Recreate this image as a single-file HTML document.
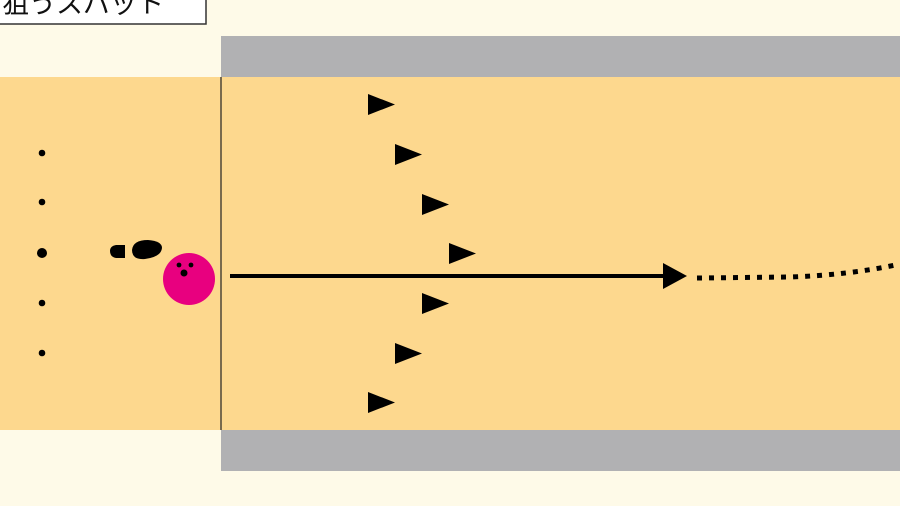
<!DOCTYPE html>
<html><head><meta charset="utf-8"><style>html,body{margin:0;padding:0;background:#fefae8}svg{display:block}</style></head>
<body>
<svg width="900" height="506" viewBox="0 0 900 506" xmlns="http://www.w3.org/2000/svg">
<rect x="0" y="0" width="900" height="506" fill="#fefae8"/>
<rect x="221" y="36" width="679" height="41" fill="#b1b1b3"/>
<rect x="221" y="430" width="679" height="41" fill="#b1b1b3"/>
<rect x="0" y="77" width="900" height="353" fill="#fdd88e"/>
<line x1="221" y1="77" x2="221" y2="430" stroke="#222" stroke-width="1.2"/>
<rect x="-2" y="-10" width="208" height="34" fill="#fff" stroke="#333" stroke-width="1.5"/>
<text x="2" y="13" font-family="'Liberation Sans','Noto Sans CJK JP',sans-serif" font-size="27" fill="#111">狙うスパット</text>
<g fill="#000">
<circle cx="42" cy="153" r="3.3"/>
<circle cx="42" cy="202" r="3.3"/>
<circle cx="42" cy="253" r="5"/>
<circle cx="42" cy="303" r="3.3"/>
<circle cx="42" cy="353" r="3.3"/>
<path d="M125 245 L125 258 L116 258 Q110 257 110 251 Q110 246 116 245 Z"/>
<path d="M132 250 Q133 240 148 240 Q162 241 162 248 Q161 257 145 259 Q132 260 132 250 Z"/>
<polygon points="368,94 395,104.5 368,115"/>
<polygon points="395,144 422,154.5 395,165"/>
<polygon points="422,194 449,204.5 422,215"/>
<polygon points="449,243 476,253.5 449,264"/>
<polygon points="422,293 449,303.5 422,314"/>
<polygon points="395,343 422,353.5 395,364"/>
<polygon points="368,392 395,402.5 368,413"/>
<line x1="230" y1="276" x2="668" y2="276" stroke="#000" stroke-width="4"/>
<polygon points="663,263 687,276 663,289"/>
</g>
<path d="M697 278 L790 277 Q850 275 900 264" fill="none" stroke="#000" stroke-width="5" stroke-dasharray="5,7"/>
<circle cx="189" cy="279" r="26" fill="#e8007f"/>
<g fill="#000">
<circle cx="179" cy="265" r="2.4"/>
<circle cx="191" cy="265" r="2.4"/>
<circle cx="184" cy="273" r="3.5"/>
</g>
</svg>
</body></html>
